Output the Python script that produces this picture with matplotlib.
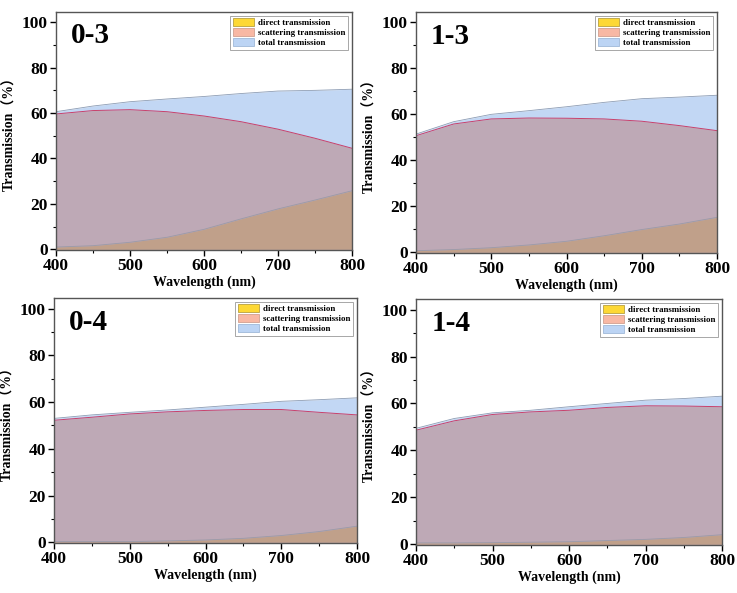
import numpy as np
import matplotlib
matplotlib.use('Agg')
from matplotlib import pyplot as plt
from matplotlib.patches import Patch

plt.rcParams['font.family'] = ['Liberation Serif', 'Noto Sans CJK SC']
plt.rcParams['font.weight'] = 'bold'

# wavelength grid (nm)
wl = [400, 450, 500, 550, 600, 650, 700, 750, 800]

# sample 0-3
total_03 = [60.6, 63.1, 65.0, 66.2, 67.3, 68.6, 69.7, 70.0, 70.5]
scatter_03 = [59.6, 61.1, 61.5, 60.6, 58.7, 56.2, 52.9, 48.9, 44.5]
direct_03 = [1.0, 1.6, 3.1, 5.3, 8.8, 13.4, 17.8, 21.7, 25.8]

# sample 1-3
total_13 = [51.4, 56.8, 60.0, 61.6, 63.3, 65.2, 66.8, 67.5, 68.3]
scatter_13 = [50.7, 55.8, 58.0, 58.4, 58.3, 58.0, 57.0, 55.1, 52.9]
direct_13 = [0.7, 1.2, 2.0, 3.2, 4.8, 7.2, 9.9, 12.3, 15.2]

# sample 0-4
total_04 = [53.0, 54.5, 55.6, 56.6, 57.8, 59.0, 60.3, 61.0, 61.8]
scatter_04 = [52.2, 53.5, 54.9, 55.8, 56.4, 56.8, 56.8, 55.6, 54.5]
direct_04 = [0.3, 0.3, 0.3, 0.6, 1.0, 1.7, 2.9, 4.6, 6.9]

# sample 1-4
total_14 = [49.4, 53.6, 56.0, 57.1, 58.6, 60.0, 61.4, 62.1, 63.1]
scatter_14 = [48.6, 52.6, 55.3, 56.4, 57.1, 58.3, 59.0, 58.9, 58.6]
direct_14 = [0.6, 0.6, 0.7, 0.9, 1.1, 1.6, 2.1, 2.9, 4.1]

samples = ['0-3', '1-3', '0-4', '1-4']
totals = [total_03, total_13, total_04, total_14]
scatters = [scatter_03, scatter_13, scatter_04, scatter_14]
directs = [direct_03, direct_13, direct_04, direct_14]

# axes boxes in pixels: left, right, top, bottom
W, H = 737, 593
boxes = [(56, 352, 12, 250), (416, 717, 12, 253),
         (54, 357, 298, 543), (416, 722, 299, 545)]

fig = plt.figure(figsize=(W / 100, H / 100), dpi=100)

for name, tot, sca, dire, (l, r, t, b) in zip(samples, totals, scatters, directs, boxes):
    ax = fig.add_axes([l / W, 1 - b / H, (r - l) / W, (b - t) / H])
    x = np.array(wl)
    # layered fills as they appear in the figure
    ax.fill_between(x, 0, tot, color='#c2d7f4', lw=0)
    ax.fill_between(x, 0, sca, color='#bea9b6', lw=0)
    ax.fill_between(x, 0, dire, color='#c0a08a', lw=0)
    ax.plot(x, tot, color='#8c9cb4', lw=0.6)
    ax.plot(x, sca, color='#c8406a', lw=0.7)
    ax.plot(x, dire, color='#9a9aa8', lw=0.6)
    ax.plot([800, 800], [dire[-1], tot[-1]], color='#c8406a', lw=0.5)
    ax.plot([400, 400], [0, sca[0]], color='#c8406a', lw=0.5)

    ax.set_xlim(400, 800)
    ax.set_ylim(-0.3, 104.5)
    ax.set_xticks([400, 500, 600, 700, 800])
    ax.set_xticks([450, 550, 650, 750], minor=True)
    ax.set_yticks([0, 20, 40, 60, 80, 100])
    ax.set_yticks([10, 30, 50, 70, 90], minor=True)
    ax.tick_params(which='major', direction='out', length=4, width=1, labelsize=12.5, pad=2)
    ax.tick_params(which='minor', direction='out', length=2, width=0.8)
    for lab in ax.get_xticklabels() + ax.get_yticklabels():
        lab.set_fontweight('bold')
    for s in ax.spines.values():
        s.set_color('#555555')
        s.set_linewidth(1.0)

    ax.set_xlabel('Wavelength (nm)', fontsize=10, fontweight='bold', labelpad=1)
    ax.set_ylabel('Transmission\uff08%\uff09', fontsize=10, fontweight='bold', labelpad=4)
    ax.text(0.05, 0.9, name, transform=ax.transAxes, fontsize=21,
            fontweight='bold', va='center', ha='left')

    handles = [Patch(facecolor='#fdd835', edgecolor='#b8a040', lw=0.6),
               Patch(facecolor='#f8b8a4', edgecolor='#d0a090', lw=0.6),
               Patch(facecolor='#bcd4f4', edgecolor='#a0b8d8', lw=0.6)]
    leg = ax.legend(handles, ['direct transmission', 'scattering transmission', 'total transmission'],
                    loc='upper right', prop={'weight': 'bold', 'size': 6.4},
                    fancybox=False, edgecolor='#999999', framealpha=1,
                    handlelength=2.4, handleheight=1.0, handletextpad=0.5,
                    labelspacing=0.12, borderpad=0.3, borderaxespad=0.4)
    leg.get_frame().set_linewidth(0.6)

fig.savefig('out.png', dpi=100)
